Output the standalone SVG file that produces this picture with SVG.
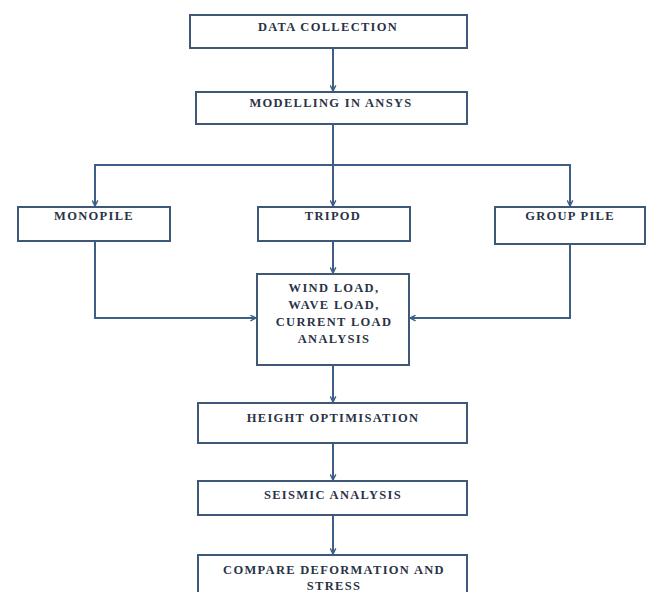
<svg xmlns="http://www.w3.org/2000/svg" width="648" height="592" viewBox="0 0 648 592">
<defs>
<style>
.box{fill:#ffffff;stroke:#3f5877;stroke-width:2}
.lbl{font-family:"Liberation Serif","Times New Roman",serif;font-weight:bold;font-size:12.5px;fill:#2a3346;text-anchor:middle;letter-spacing:1.3px}
.con{fill:none;stroke:#3d5e86;stroke-width:2}
</style>
<marker id="arr" viewBox="0 0 10 10" refX="9" refY="5" markerWidth="7" markerHeight="7" orient="auto" markerUnits="userSpaceOnUse">
<path d="M1,1 L9,5 L1,9" fill="none" stroke="#3d5e86" stroke-width="2"/>
</marker>
</defs>
<rect width="648" height="592" fill="#ffffff"/>
<g id="connectors">
<line class="con" x1="333" y1="48" x2="333" y2="91" marker-end="url(#arr)"/>
<polyline class="con" points="333,124 333,165"/>
<polyline class="con" points="95,206 95,165 570,165 570,206" marker-end="url(#arr)"/>
<line class="con" x1="95" y1="165" x2="95" y2="206" marker-end="url(#arr)"/>
<line class="con" x1="333" y1="165" x2="333" y2="206" marker-end="url(#arr)"/>
<line class="con" x1="333" y1="241" x2="333" y2="273" marker-end="url(#arr)"/>
<polyline class="con" points="95,241 95,318 256,318" marker-end="url(#arr)"/>
<polyline class="con" points="570,244 570,318 410,318" marker-end="url(#arr)"/>
<line class="con" x1="333" y1="365" x2="333" y2="402" marker-end="url(#arr)"/>
<line class="con" x1="333" y1="443" x2="333" y2="480" marker-end="url(#arr)"/>
<line class="con" x1="333" y1="515" x2="333" y2="554" marker-end="url(#arr)"/>
</g>
<g id="n1"><rect class="box" x="190" y="15" width="277" height="33"/><text class="lbl" x="328" y="31">DATA COLLECTION</text></g>
<g id="n2"><rect class="box" x="196" y="92" width="271" height="32"/><text class="lbl" x="331" y="107">MODELLING IN ANSYS</text></g>
<g id="n3"><rect class="box" x="18" y="207" width="152" height="34"/><text class="lbl" x="94" y="220">MONOPILE</text></g>
<g id="n4"><rect class="box" x="258" y="207" width="152" height="34"/><text class="lbl" x="333" y="220">TRIPOD</text></g>
<g id="n5"><rect class="box" x="495" y="207" width="150" height="37"/><text class="lbl" x="570" y="220">GROUP PILE</text></g>
<g id="n6"><rect class="box" x="257" y="274" width="152" height="91"/>
<text class="lbl" x="334" y="292">WIND LOAD,</text>
<text class="lbl" x="334" y="309">WAVE LOAD,</text>
<text class="lbl" x="334" y="326">CURRENT LOAD</text>
<text class="lbl" x="334" y="343">ANALYSIS</text></g>
<g id="n7"><rect class="box" x="198" y="403" width="269" height="40"/><text class="lbl" x="333" y="422">HEIGHT OPTIMISATION</text></g>
<g id="n8"><rect class="box" x="198" y="481" width="269" height="34"/><text class="lbl" x="333" y="499">SEISMIC ANALYSIS</text></g>
<g id="n9"><rect class="box" x="198" y="555" width="269" height="40"/><text class="lbl" x="334" y="574">COMPARE DEFORMATION AND</text><text class="lbl" x="334" y="590">STRESS</text></g>
</svg>
